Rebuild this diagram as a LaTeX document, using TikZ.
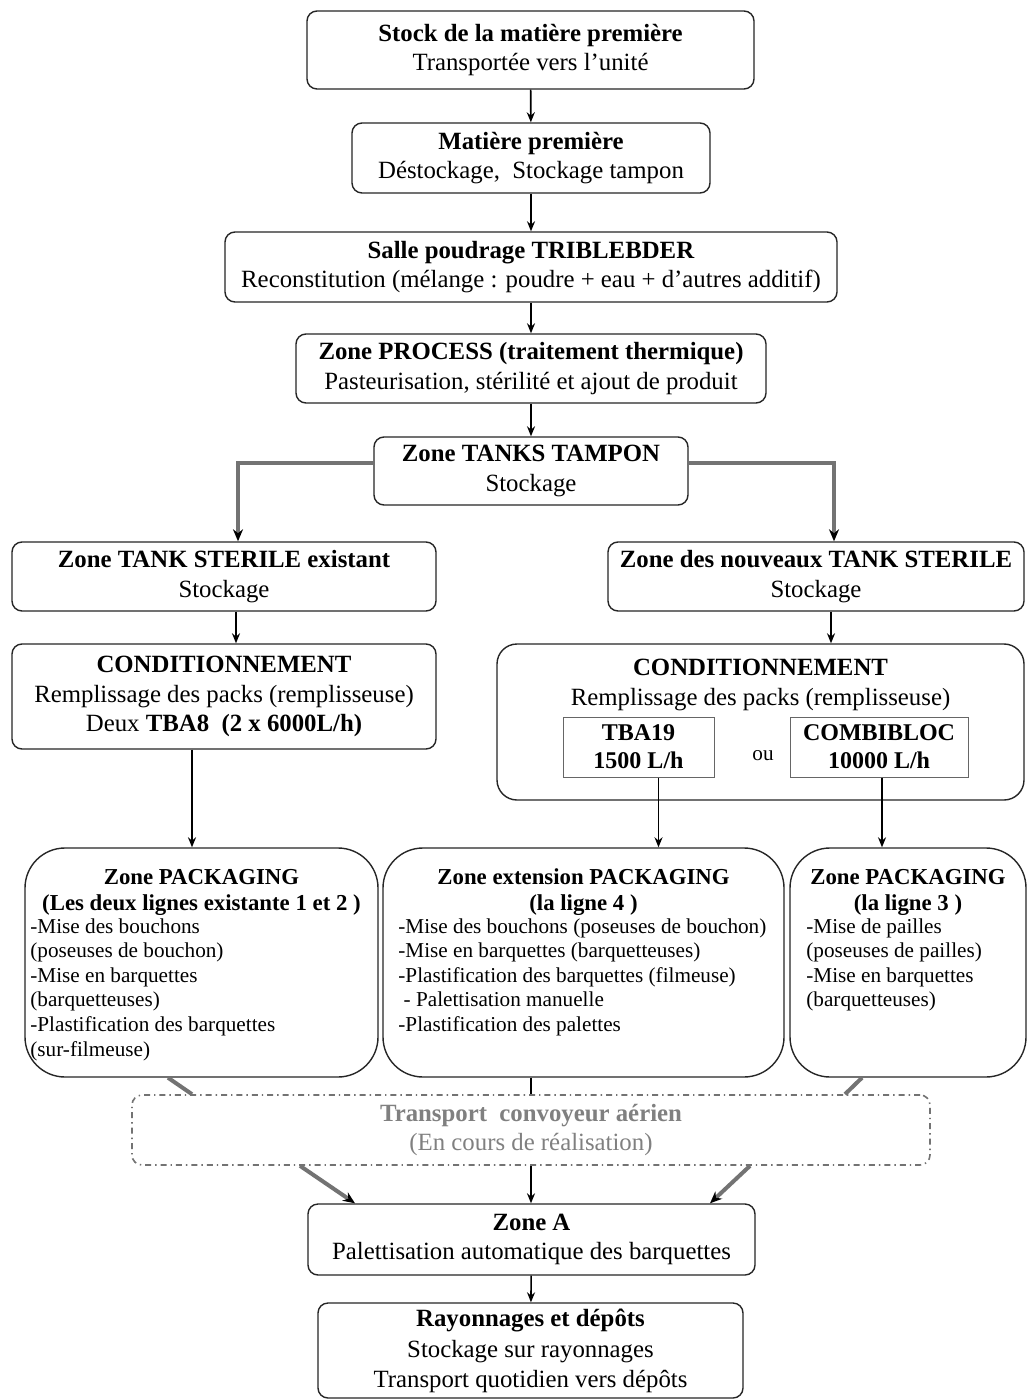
\documentclass[tikz,border=0pt]{standalone}
\usepackage{fontspec}
\setmainfont{Liberation Serif}
\usetikzlibrary{calc,arrows.meta}
\tikzset{
  boite/.style={draw=black!85, line width=0.7pt, rounded corners=5pt, align=center, inner sep=0pt, font=\fontsize{12.4}{14.6}\selectfont},
  grandeboite/.style={draw=black!85, line width=0.7pt, rounded corners=20pt, inner sep=0pt},
  cadre/.style={draw=black!60, line width=0.5pt, align=center, inner sep=0pt, font=\bfseries\fontsize{12}{14}\selectfont},
  titre/.style={align=center, inner sep=0pt, font=\fontsize{11.4}{13}\selectfont},
  liste/.style={align=left, anchor=north west, inner sep=0pt, font=\fontsize{10.6}{12.3}\selectfont},
  fleche/.style={line width=0.8pt, -{Stealth[length=5pt,width=4pt]}},
  grosfleche/.style={line width=2pt, draw=black!55, -{Stealth[length=6pt,width=5pt,black]}},
}

\begin{document}
\begin{tikzpicture}[x=0.5pt, y=-0.5pt]
			%%%%% START %%%%%
			\useasboundingbox[fill=white] (0, 0) rectangle (1026, 1400);
			
			\node[boite, minimum width=223.5pt, minimum height=39pt] (stock) at (530.5, 50) {\textbf{Stock de la matière première}\\Transportée vers l'unité};
			\node[boite, minimum width=179pt, minimum height=35pt] (matiere) at (531, 158) {\textbf{Matière première}\\Déstockage,~ Stockage tampon};
			\node[boite, minimum width=306pt, minimum height=35pt] (salle) at (531, 267) {\textbf{Salle poudrage TRIBLEBDER}\\Reconstitution (mélange : poudre + eau + d'autres additif)};
			\node[boite, minimum width=235pt, minimum height=34.5pt] (process) at (531, 368.5) {\textbf{Zone PROCESS (traitement thermique)}\\Pasteurisation, stérilité et ajout de produit};
			\node[boite, minimum width=157pt, minimum height=34pt] (tampon) at (531, 471) {\textbf{Zone TANKS TAMPON}\\Stockage};
			
			\node[boite, minimum width=212pt, minimum height=34.5pt] (sterileA) at (224, 576.5) {\textbf{Zone TANK STERILE existant}\\Stockage};
			\node[boite, minimum width=208pt, minimum height=34.5pt] (sterileB) at (816, 576.5) {\textbf{Zone des nouveaux TANK STERILE}\\Stockage};
			
			\node[boite, minimum width=212pt, minimum height=52.5pt] (condA) at (224, 696.5) {\textbf{CONDITIONNEMENT}\\Remplissage des packs (remplisseuse)\\Deux \textbf{TBA8~ (2 x 6000L/h)}};
			
			\node[grandeboite, rounded corners=10pt, minimum width=263.5pt, minimum height=78pt] (condB) at (760.5, 722) {};
			\node[titre, font=\fontsize{12.4}{14.6}\selectfont] (condBtxt) at (760.5, 685) {\textbf{CONDITIONNEMENT}\\Remplissage des packs (remplisseuse)};
			\node[cadre, minimum width=75.5pt, minimum height=30pt] (tba) at (638.5, 747) {TBA19\\1500 L/h};
			\node[cadre, minimum width=89pt, minimum height=30pt] (combi) at (879, 747) {COMBIBLOC\\10000 L/h};
			\node[inner sep=0pt, font=\fontsize{10.6}{12}\selectfont] (ou) at (763, 756) {ou};
			
			\node[grandeboite, minimum width=176.5pt, minimum height=114.5pt] (packA) at (201.5, 962.5) {};
			\node[titre] (packAtitre) at (201.5, 892) {\textbf{Zone PACKAGING}\\\textbf{(Les deux lignes existante 1 et 2 )}};
			\node[liste] (packAliste) at (30, 918) {-Mise des bouchons\\(poseuses de bouchon)\\-Mise en barquettes\\(barquetteuses)\\-Plastification des barquettes\\(sur-filmeuse)};
			
			\node[grandeboite, minimum width=200.5pt, minimum height=114.5pt] (packB) at (583.5, 962.5) {};
			\node[titre] (packBtitre) at (583.5, 892) {\textbf{Zone extension PACKAGING}\\\textbf{(la ligne 4 )}};
			\node[liste] (packBliste) at (398, 918) {-Mise des bouchons (poseuses de bouchon)\\-Mise en barquettes (barquetteuses)\\-Plastification des barquettes (filmeuse)\\\ - Palettisation manuelle\\-Plastification des palettes};
			
			\node[grandeboite, minimum width=118pt, minimum height=114.5pt] (packC) at (908, 962.5) {};
			\node[titre] (packCtitre) at (908, 892) {\textbf{Zone PACKAGING}\\\textbf{(la ligne 3 )}};
			\node[liste] (packCliste) at (806, 918) {-Mise de pailles\\(poseuses de pailles)\\-Mise en barquettes\\(barquetteuses)};
			
			\node[boite, draw=black!55, dash dot, line width=0.8pt, text=black!50, minimum width=399pt, minimum height=35pt] (convoyeur) at (531, 1130) {\textbf{Transport~ convoyeur aérien}\\(En cours de réalisation)};
			
			\node[boite, minimum width=223.5pt, minimum height=35.5pt] (zoneA) at (531.5, 1239.5) {\textbf{Zone A}\\Palettisation automatique des barquettes};
			\node[boite, font=\fontsize{12.4}{15}\selectfont, minimum width=212.5pt, minimum height=47.5pt] (rayon) at (530.5, 1350.5) {\textbf{Rayonnages et dépôts}\\[0.6pt]Stockage sur rayonnages\\Transport quotidien vers dépôts};
			
			%%%%% FLECHES %%%%%
			\draw[fleche] (stock) -- (matiere);
			\draw[fleche] (matiere) -- (salle);
			\draw[fleche] (salle) -- (process);
			\draw[fleche] (process) -- (tampon);
			
			\draw[grosfleche] ($(tampon.west)+(0, -8)$) -| ($(sterileA.north)+(14, 0)$);
			\draw[grosfleche] ($(tampon.east)+(0, -8)$) -| ($(sterileB.north)+(18, 0)$);
			
			\draw[fleche] ($(sterileA.south)+(12, 0)$) -- ($(condA.north)+(12, 0)$);
			\draw[fleche] ($(sterileB.south)+(15, 0)$) -- ($(sterileB.south |- condB.north)+(15, 0)$);
			
			\draw[fleche] ($(condA.south)+(-32, 0)$) -- ($(condA.south |- packA.north)+(-32, 0)$);
			\draw[fleche] ($(tba.south)+(20, 0)$) -- ($(tba.south |- packB.north)+(20, 0)$);
			\draw[fleche] ($(combi.south)+(3, 0)$) -- ($(combi.south |- packC.north)+(3, 0)$);
			
			\draw[line width=2pt, black!55] ($(packA.south)+(-33.5, 0)$) -- ($(convoyeur.north)+(-339, 0)$);
			\draw[line width=0.8pt] (packB.south -| convoyeur.north) -- (convoyeur.north);
			\draw[line width=2pt, black!55] ($(packC.south)+(-46, 0)$) -- ($(convoyeur.north)+(314, 0)$);
			
			\draw[grosfleche] ($(convoyeur.south)+(-231, 0)$) -- ($(zoneA.north)+(-176.5, 0)$);
			\draw[fleche] (convoyeur.south) -- (convoyeur.south |- zoneA.north);
			\draw[grosfleche] ($(convoyeur.south)+(219, 0)$) -- ($(zoneA.north)+(178.5, 0)$);
			
			\draw[fleche] (zoneA) -- (rayon);
			%%%%% END %%%%%
\end{tikzpicture}
\end{document}
